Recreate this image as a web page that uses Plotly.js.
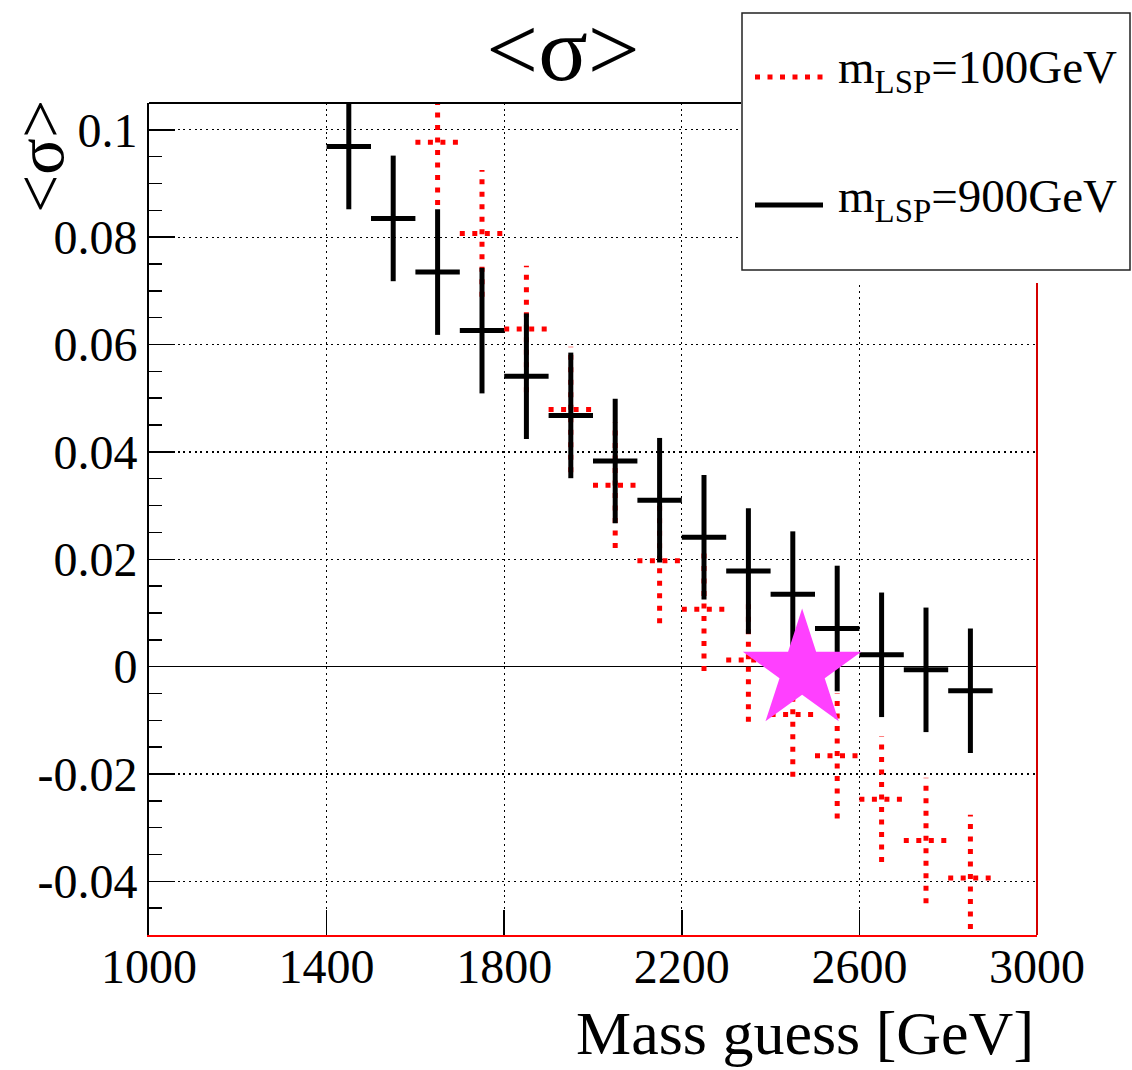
<!DOCTYPE html>
<html>
<head>
<meta charset="utf-8">
<script src="https://cdn.plot.ly/plotly-3.0.1.min.js"></script>
<style>html,body{margin:0;padding:0;background:#fff;}#chart{width:1132px;height:1070px;}</style>
</head>
<body>
<div id="chart"></div>
<script>
// ---- data ----
var massBlack = [1450,1550,1650,1750,1850,1950,2050,2150,2250,2350,2450,2550,2650,2750,2850];
var sigmaBlack = [0.0969,0.0835,0.0735,0.0626,0.0541,0.0468,0.0383,0.0310,0.0241,0.0178,0.0135,0.0071,0.0022,-0.0006,-0.0045];
var errBlack = [0.0117,0.0117,0.0117,0.0117,0.0117,0.0117,0.0116,0.0116,0.0116,0.0117,0.0117,0.0117,0.0116,0.0116,0.0116];

var massRed = [1650,1750,1850,1950,2050,2150,2250,2350,2450,2550,2650,2750,2850];
var sigmaRed = [0.0977,0.0807,0.0629,0.0479,0.0338,0.0197,0.0107,0.00125,-0.0089,-0.0166,-0.0247,-0.0324,-0.0394];
var errRed = [0.0117,0.0118,0.0118,0.0117,0.0117,0.0116,0.0115,0.0115,0.0116,0.0117,0.0117,0.0117,0.0118];

var binHalfWidth = 50;

var starMass = [2471];
var starSigma = [-0.0008];

var xTickVals = [1000,1400,1800,2200,2600,3000];
var xTickText = ['1000','1400','1800','2200','2600','3000'];
var yTickVals = [-0.04,-0.02,0,0.02,0.04,0.06,0.08,0.1];
var yTickText = ['-0.04','-0.02','0','0.02','0.04','0.06','0.08','0.1'];

var legendLabels = ['m<sub>LSP</sub>=100GeV','m<sub>LSP</sub>=900GeV'];

// ---- build cross segments (vertical error + horizontal bin width) ----
function crosses(xs, ys, es) {
  var X = [], Y = [];
  for (var i = 0; i < xs.length; i++) {
    X.push(xs[i], xs[i], null, xs[i] - binHalfWidth, xs[i] + binHalfWidth, null);
    Y.push(ys[i] - es[i], ys[i] + es[i], null, ys[i], ys[i], null);
  }
  return {x: X, y: Y};
}

var cr = crosses(massRed, sigmaRed, errRed);
var cb = crosses(massBlack, sigmaBlack, errBlack);

var FONT = '"Liberation Serif", "Times New Roman", serif';

var traces = [
  {x: cr.x, y: cr.y, mode: 'lines', connectgaps: false,
   line: {color: '#ff0000', width: 5, dash: '5px,7.5px'}, hoverinfo: 'skip', showlegend: false},
  {x: cb.x, y: cb.y, mode: 'lines', connectgaps: false,
   line: {color: '#000000', width: 5}, hoverinfo: 'skip', showlegend: false},
  {x: starMass, y: starSigma, mode: 'markers',
   marker: {symbol: 'star', size: 89, color: '#ff40ff', line: {width: 0}}, showlegend: false}
];

// plot area in pixels
var L = 149, R = 95, T = 103, B = 135;
var W = 1132 - L - R, H = 1070 - T - B;
function px(x) { return (x - L) / W; }
function py(y) { return (1070 - B - y) / H; }

var layout = {
  width: 1132, height: 1070,
  margin: {l: L, r: R, t: T, b: B, pad: 0},
  paper_bgcolor: '#ffffff', plot_bgcolor: '#ffffff',
  font: {family: FONT, color: '#000000'},
  showlegend: false,
  title: {text: '&lt;σ&gt;', font: {family: FONT, size: 92, color: '#000'},
          x: 563 / 1132, xanchor: 'center', xref: 'container',
          y: 1 - 48 / 1070, yanchor: 'middle', yref: 'container'},
  xaxis: {
    range: [1000, 3000], tickvals: xTickVals, ticktext: xTickText,
    ticks: 'inside', ticklen: 25, tickwidth: 1.5, tickcolor: '#000',
    ticklabelstandoff: -12,
    tickfont: {family: FONT, size: 48, color: '#000'},
    showline: true, linecolor: '#ff0000', linewidth: 2, mirror: false,
    showgrid: true, gridcolor: '#000', gridwidth: 1.2, griddash: '2px,3.7px',
    zeroline: false, fixedrange: true
  },
  yaxis: {
    range: [-0.05, 0.105], tickvals: yTickVals, ticktext: yTickText,
    ticks: 'inside', ticklen: 26, tickwidth: 1.5, tickcolor: '#000',
    tickfont: {family: FONT, size: 48, color: '#000'},
    minor: {dtick: 0.005, tick0: 0, ticks: 'inside', ticklen: 13, tickwidth: 1.5, tickcolor: '#000', showgrid: false},
    showline: true, linecolor: '#000', linewidth: 2, mirror: false,
    showgrid: true, gridcolor: '#000', gridwidth: 1.2, griddash: '2px,3.7px',
    zeroline: true, zerolinecolor: '#000', zerolinewidth: 1.5, fixedrange: true
  },
  shapes: [
    // top frame
    {type: 'line', xref: 'paper', yref: 'paper', x0: 0, x1: 1, y0: 1, y1: 1, line: {color: '#000', width: 2}},
    // right frame
    {type: 'line', xref: 'paper', yref: 'paper', x0: 1, x1: 1, y0: 0, y1: 1, line: {color: '#d40000', width: 2}},
    // legend background
    {type: 'rect', xref: 'paper', yref: 'paper', x0: px(741), x1: px(1131), y0: py(283), y1: py(12),
     fillcolor: '#ffffff', line: {width: 0}},
    {type: 'rect', xref: 'paper', yref: 'paper', x0: px(742), x1: px(1130), y0: py(270), y1: py(13),
     fillcolor: 'rgba(0,0,0,0)', line: {color: '#222', width: 1.5}},
    // legend symbols
    {type: 'line', xref: 'paper', yref: 'paper', x0: px(755), x1: px(823), y0: py(77), y1: py(77),
     line: {color: '#ff0000', width: 5, dash: '5px,7.5px'}},
    {type: 'line', xref: 'paper', yref: 'paper', x0: px(755), x1: px(823), y0: py(205), y1: py(205),
     line: {color: '#000', width: 5}}
  ],
  annotations: [
    {text: legendLabels[0], xref: 'paper', yref: 'paper', x: px(836), y: py(71), xanchor: 'left', yanchor: 'middle',
     showarrow: false, font: {family: FONT, size: 47, color: '#000'}},
    {text: legendLabels[1], xref: 'paper', yref: 'paper', x: px(836), y: py(199), xanchor: 'left', yanchor: 'middle',
     showarrow: false, font: {family: FONT, size: 47, color: '#000'}},
    {text: 'Mass guess [GeV]', xref: 'paper', yref: 'paper', x: px(1036), y: py(1033), xanchor: 'right', yanchor: 'middle',
     showarrow: false, font: {family: FONT, size: 62, color: '#000'}},
    {text: '&lt;σ&gt;', xref: 'paper', yref: 'paper', x: px(40), y: py(157), xanchor: 'center', yanchor: 'middle',
     textangle: -90, showarrow: false, font: {family: FONT, size: 68, color: '#000'}}
  ]
};

Plotly.newPlot('chart', traces, layout, {displayModeBar: false, staticPlot: true});
</script>
</body>
</html>
